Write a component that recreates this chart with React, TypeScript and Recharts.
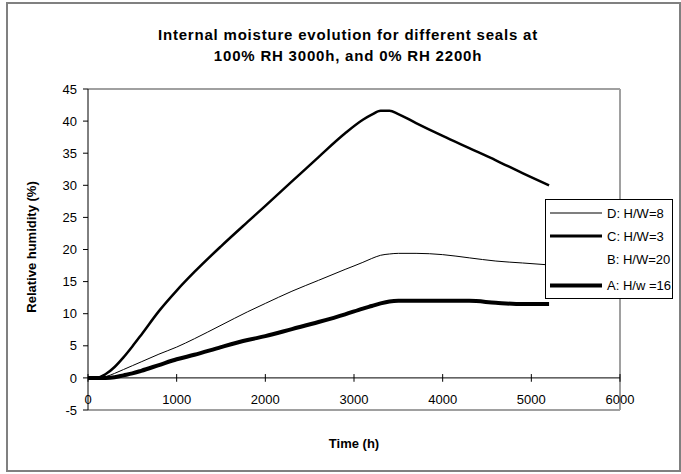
import React from 'react';
import { LineChart, Line, XAxis, YAxis, ReferenceLine } from 'recharts';

// time points (h) shared by all series
const times = [0, 100, 200, 300, 400, 500, 600, 800, 1000, 1200, 1500, 1800, 2000, 2300, 2600, 2900, 3100, 3200, 3300, 3400, 3500, 3700, 4000, 4300, 4600, 4900, 5200];

// relative humidity (%) per seal
const sealD = [0, 0, 0.2, 0.7, 1.3, 1.9, 2.5, 3.7, 4.8, 6.1, 8.2, 10.3, 11.6, 13.5, 15.2, 16.9, 18.0, 18.6, 19.1, 19.3, 19.4, 19.4, 19.2, 18.7, 18.2, 17.9, 17.6];
const sealC = [0, 0, 0.6, 1.7, 3.2, 4.9, 6.7, 10.4, 13.6, 16.5, 20.5, 24.3, 26.8, 30.6, 34.4, 38.1, 40.2, 41.0, 41.6, 41.6, 41.1, 39.7, 37.7, 35.8, 33.9, 31.9, 30.0];
const sealA = [0, 0, 0, 0.1, 0.4, 0.7, 1.1, 2.0, 2.9, 3.6, 4.8, 5.9, 6.5, 7.6, 8.7, 9.9, 10.8, 11.2, 11.6, 11.9, 12.0, 12.0, 12.0, 12.0, 11.7, 11.5, 11.5];

const xTicks = [0, 1000, 2000, 3000, 4000, 5000, 6000];
const yTicks = [-5, 0, 5, 10, 15, 20, 25, 30, 35, 40, 45];

const legendItems = [
  { name: 'D: H/W=8', width: 1 },
  { name: 'C: H/W=3', width: 2.5 },
  { name: 'B: H/W=20', width: 0 },
  { name: 'A: H/w =16', width: 4 },
];

const data = times.map((t, i) => ({ t, D: sealD[i], C: sealC[i], A: sealA[i] }));

const font = 'Arial, "Liberation Sans", sans-serif';

const XTick = (props: any) => (
  <text x={props.x} y={props.y} dy={-6} textAnchor="middle" fontSize={13} fill="#000" fontFamily={font}>
    {props.payload.value}
  </text>
);

export default function App() {
  return (
    <div style={{ position: 'absolute', left: 0, top: 0, width: 681, height: 474, fontFamily: font, background: '#fff' }}>
      {/* outer chart frame */}
      <div style={{ position: 'absolute', left: 6, top: 2, width: 675, height: 470, border: '2px solid #808080', boxSizing: 'border-box' }} />

      <div style={{ position: 'absolute', left: 0, top: 24, width: 696, textAlign: 'center', fontWeight: 'bold', fontSize: 15, letterSpacing: 0.8, lineHeight: '21px' }}>
        Internal moisture evolution for different seals at
        <br />
        100% RH 3000h, and 0% RH 2200h
      </div>

      <div style={{ position: 'absolute', left: 31, top: 247, transform: 'translate(-50%, -50%) rotate(-90deg)', whiteSpace: 'nowrap', fontWeight: 'bold', fontSize: 13 }}>
        Relative humidity (%)
      </div>

      <div style={{ position: 'absolute', left: 354, top: 443, transform: 'translate(-50%, -50%)', whiteSpace: 'nowrap', fontWeight: 'bold', fontSize: 13 }}>
        Time (h)
      </div>

      <div style={{ position: 'absolute', left: 0, top: 0 }}>
        <LineChart width={681} height={474} data={data} margin={{ top: 89, right: 61, left: 58, bottom: 34 }}>
          <XAxis
            dataKey="t"
            type="number"
            domain={[0, 6000]}
            ticks={xTicks}
            interval={0}
            axisLine={false}
            tickLine={false}
            tickSize={0}
            tickMargin={0}
            height={30}
            tick={XTick}
          />
          <YAxis
            type="number"
            domain={[-5, 45]}
            ticks={yTicks}
            interval={0}
            width={30}
            tickSize={5}
            tickMargin={6}
            axisLine={{ stroke: '#000' }}
            tickLine={{ stroke: '#000' }}
            tick={{ fill: '#000', fontSize: 13, fontFamily: font }}
          />
          {/* plot area border */}
          <ReferenceLine y={45} stroke="#a0a0a0" strokeWidth={2} />
          <ReferenceLine y={-5} stroke="#a0a0a0" strokeWidth={2} />
          <ReferenceLine x={6000} stroke="#a0a0a0" strokeWidth={2} />
          {/* x axis through zero with crossing ticks */}
          <ReferenceLine y={0} stroke="#000" strokeWidth={1} />
          {xTicks.map((t) => (
            <ReferenceLine key={t} segment={[{ x: t, y: -0.6 }, { x: t, y: 0.6 }]} stroke="#000" strokeWidth={1} />
          ))}
          <Line type="monotone" dataKey="D" stroke="#000" strokeWidth={1} dot={false} isAnimationActive={false} />
          <Line type="monotone" dataKey="C" stroke="#000" strokeWidth={2.5} dot={false} isAnimationActive={false} />
          <Line type="monotone" dataKey="A" stroke="#000" strokeWidth={4} dot={false} isAnimationActive={false} />
        </LineChart>
      </div>

      {/* legend */}
      <div style={{ position: 'absolute', left: 545, top: 199, width: 128, height: 100, border: '1px solid #000', background: '#fff', boxSizing: 'border-box', fontSize: 13 }}>
        {legendItems.map((item, i) => (
          <div key={item.name} style={{ position: 'absolute', left: 0, top: [13, 36, 59, 85][i], transform: 'translateY(-50%)', display: 'flex', alignItems: 'center', whiteSpace: 'nowrap' }}>
            <div style={{ marginLeft: 4, width: 52, height: item.width, background: item.width ? '#000' : 'transparent' }} />
            <span style={{ marginLeft: 5 }}>{item.name}</span>
          </div>
        ))}
      </div>
    </div>
  );
}
